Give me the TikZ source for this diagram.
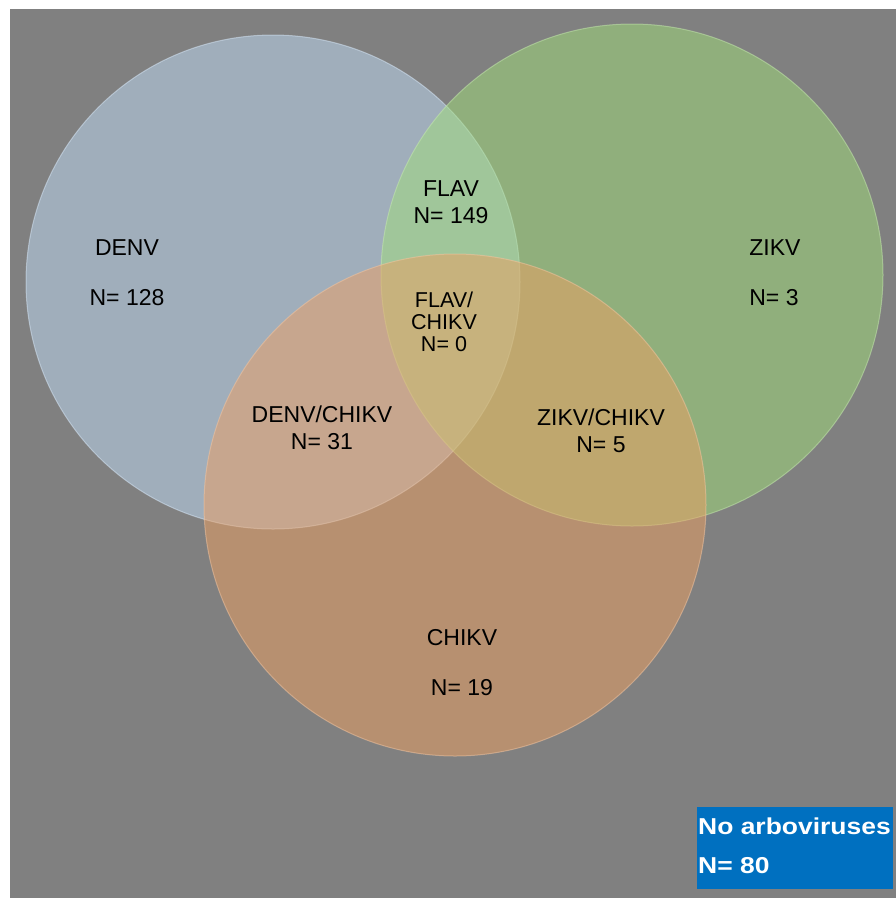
\documentclass[tikz,border=0pt]{standalone}
\usepackage{fontspec}
\setmainfont{Liberation Sans}
\definecolor{bggray}{RGB}{128,128,128}
\definecolor{denvc}{RGB}{192,220,246}
\definecolor{zikvc}{RGB}{160,222,122}
\definecolor{chikvc}{RGB}{238,160,98}
\definecolor{boxblue}{RGB}{0,112,192}
\tikzset{
  lbl/.style={anchor=base, inner sep=0pt, font=\fontsize{23}{27}\selectfont, text=black},
  slbl/.style={anchor=base, inner sep=0pt, font=\fontsize{21.5}{25}\selectfont, text=black},
  boxtxt/.style={anchor=base west, inner sep=0pt, font=\fontsize{23}{27}\selectfont\bfseries, text=white}
}
\begin{document}
\begin{tikzpicture}[x=1pt,y=-1pt]
\useasboundingbox (0,0) rectangle (896,898);
\fill[white] (0,0) rectangle (896,898);
\fill[bggray] (10,9) rectangle (896,898);
% circles
\fill[denvc, fill opacity=0.5] (273,282) circle[radius=247pt];
\draw[denvc!60!white, opacity=0.5, line width=1pt] (273,282) circle[radius=247pt];
\fill[zikvc, fill opacity=0.5] (632,275) circle[radius=251pt];
\draw[zikvc!60!white, opacity=0.5, line width=1pt] (632,275) circle[radius=251pt];
\fill[chikvc, fill opacity=0.5] (455,505) circle[radius=251pt];
\draw[chikvc!60!white, opacity=0.5, line width=1pt] (455,505) circle[radius=251pt];
% labels
\node[lbl] (denv) at (127,255) {DENV};
\node[lbl] (denvn) at (127,305) {N= 128};
\node[lbl] (zikv) at (775,255) {ZIKV};
\node[lbl] (zikvn) at (774,305) {N= 3};
\node[lbl] (flav) at (451,196) {FLAV};
\node[lbl] (flavn) at (451,223) {N= 149};
\node[slbl] (fc1) at (444,307) {FLAV/};
\node[slbl] (fc2) at (444,329) {CHIKV};
\node[slbl] (fc3) at (444,351) {N= 0};
\node[lbl] (dc) at (322,422) {DENV/CHIKV};
\node[lbl] (dcn) at (322,449) {N= 31};
\node[lbl] (zc) at (601,425) {ZIKV/CHIKV};
\node[lbl] (zcn) at (601,452) {N= 5};
\node[lbl] (chikv) at (462,645) {CHIKV};
\node[lbl] (chikvn) at (462,695) {N= 19};
% no arboviruses box
\fill[boxblue] (697,807) rectangle (893,889);
\node[boxtxt] (noarb) at (698,834) {\scalebox{1.15}[1]{No arboviruses}};
\node[boxtxt] (noarbn) at (698,873) {\scalebox{1.15}[1]{N= 80}};
\end{tikzpicture}
\end{document}
